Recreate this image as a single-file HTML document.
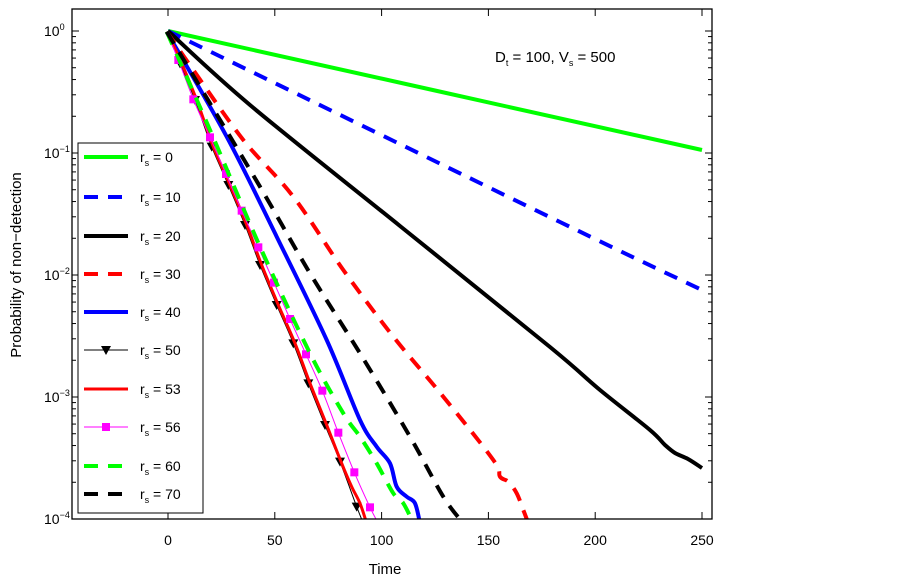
<!DOCTYPE html>
<html><head><meta charset="utf-8"><style>
body{margin:0;background:#fff;}
svg{display:block;font-family:"Liberation Sans",sans-serif;}
</style></head><body>
<svg id="s" width="902" height="580" xmlns="http://www.w3.org/2000/svg">
<rect x="0" y="0" width="902" height="580" fill="#fff"/>
<defs><clipPath id="c"><rect x="72" y="9" width="640" height="510"/></clipPath></defs>
<g id="curves" clip-path="url(#c)"></g>
<rect x="72" y="9" width="640" height="510" fill="none" stroke="#000" stroke-width="1.3"/>
<g id="ticks" stroke="#000" stroke-width="1"></g>
<g id="labels" font-size="14" fill="#000"></g>
<text x="385" y="574" font-size="15" text-anchor="middle">Time</text>
<text transform="translate(21,265) rotate(-90)" font-size="15" text-anchor="middle">Probability of non−detection</text>
<text x="495" y="62" font-size="15">D<tspan font-size="9" dy="4">t</tspan><tspan dy="-4"> = 100, V</tspan><tspan font-size="9" dy="4">s</tspan><tspan dy="-4"> = 500</tspan></text>
<g id="legend"></g>
</svg>
<script>
const NS="http://www.w3.org/2000/svg";
function X(t){return 168+t*2.136;}
function Y(l){return 31-l*122;}
function el(p,tag,a,txt){const e=document.createElementNS(NS,tag);for(const k in a)e.setAttribute(k,a[k]);if(txt!==undefined)e.textContent=txt;p.appendChild(e);return e;}
const tk=document.getElementById('ticks'),lb=document.getElementById('labels');
for(let t=0;t<=250;t+=50){const x=X(t);el(tk,'line',{x1:x,y1:519,x2:x,y2:512});el(tk,'line',{x1:x,y1:9,x2:x,y2:16});
el(lb,'text',{x:x,y:545,'text-anchor':'middle'},String(t));}
for(let d=0;d>=-4;d--){const y=Y(d);el(tk,'line',{x1:72,y1:y,x2:79,y2:y});el(tk,'line',{x1:712,y1:y,x2:705,y2:y});
const tx=el(lb,'text',{x:44,y:y+5});tx.innerHTML='10<tspan font-size="9" dy="-6">'+(d==0?'0':'−'+(-d))+'</tspan>';
if(d>-4)for(let k=2;k<=9;k++){const yy=Y(d-1+Math.log10(k));el(tk,'line',{x1:72,y1:yy,x2:76,y2:yy});el(tk,'line',{x1:712,y1:yy,x2:708,y2:yy});}}
const cv=document.getElementById('curves');
function Z(pts){return pts.map(p=>[160+p[0]/3,20+p[1]/3]);}
const P={
g0:[[168,31],[702,150]],
b10:[[168,31],[560,222],[702,290]],
k20:[[168,31],[250,105],[400,226],[550,347],[600,390],[650,430],[665,445],[675,453],[688,459],[702,468]],
r30:Z([[20,35],[100,150],[250,360],[400,530],[550,750],[700,950],[850,1130],[1000,1320],[1020,1370],[1045,1385],[1070,1420],[1090,1470],[1105,1510]]),
b40:Z([[20,35],[200,350],[350,650],[500,960],[600,1200],[650,1280],[690,1330],[710,1400],[740,1430],[765,1450],[780,1510]]),
k50:Z([[20,35],[60,130],[105,240],[155,380],[205,495],[255,615],[300,735],[350,855],[400,970],[445,1090],[495,1215],[540,1325],[590,1460],[610,1510]]),
r53:Z([[20,35],[65,130],[110,240],[160,380],[210,495],[260,615],[305,735],[355,855],[405,970],[450,1090],[500,1215],[545,1330],[575,1400],[600,1450],[620,1510]]),
m56:Z([[20,35],[55,120],[100,238],[150,352],[198,462],[245,572],[295,682],[342,788],[390,897],[438,1003],[487,1112],[535,1238],[583,1357],[630,1462],[655,1510]]),
g60:Z([[20,35],[150,330],[300,680],[450,1000],[550,1180],[600,1250],[650,1330],[700,1420],[730,1450],[760,1510]]),
k70:Z([[20,35],[150,250],[300,500],[450,760],[600,1000],[750,1250],[850,1430],[910,1510]])};
const S=[
['g0','#00ff00',4,'',null],
['b10','#0000ff',4,'14 10',null],
['k20','#000',4,'',null],
['r30','#ff0000',4,'14 10',null],
['b40','#0000ff',4,'',null],
['k50','#000',1,'',"tri"],
['r53','#ff0000',3,'',null],
['m56','#ff00ff',1,'',"sq"],
['g60','#00ff00',4,'14 10',null],
['k70','#000',4,'14 10',null]];
function smooth(p){let d='M'+p[0][0].toFixed(1)+' '+p[0][1].toFixed(1);
for(let i=0;i<p.length-1;i++){const p0=p[i-1]||p[i],p1=p[i],p2=p[i+1],p3=p[i+2]||p2;
const c1=[p1[0]+(p2[0]-p0[0])/6,p1[1]+(p2[1]-p0[1])/6],c2=[p2[0]-(p3[0]-p1[0])/6,p2[1]-(p3[1]-p1[1])/6];
d+='C'+c1.map(v=>v.toFixed(1)).join(' ')+' '+c2.map(v=>v.toFixed(1)).join(' ')+' '+p2[0].toFixed(1)+' '+p2[1].toFixed(1);}
return d;}
S.forEach(s=>{const pts=P[s[0]];const d=smooth(pts);
el(cv,'path',{d:d,fill:'none',stroke:s[1],'stroke-width':s[2],'stroke-dasharray':s[3],'stroke-linejoin':'round'});
if(s[4]){pts.slice(1,-1).forEach(p=>{const x=p[0],y=p[1];
if(s[4]=='sq')el(cv,'rect',{x:x-4,y:y-4,width:8,height:8,fill:'#ff00ff'});
else el(cv,'path',{d:`M${x-5} ${y-4}L${x+5} ${y-4}L${x} ${y+5}Z`,fill:'#000'});});}
});
const lg=document.getElementById('legend');
el(lg,'rect',{x:78,y:143,width:125,height:370,fill:'#fff',stroke:'#000','stroke-width':1});
const names=['0','10','20','30','40','50','53','56','60','70'];
const ys=[157,197,236,274,312,350,389,427,466,494];
S.forEach((s,i)=>{const y=ys[i];el(lg,'line',{x1:84,y1:y,x2:128,y2:y,stroke:s[1],'stroke-width':s[2],'stroke-dasharray':s[3]});
if(s[4]=='sq')el(lg,'rect',{x:102,y:y-4,width:8,height:8,fill:'#ff00ff'});
if(s[4]=='tri')el(lg,'path',{d:`M${101} ${y-4}L${111} ${y-4}L${106} ${y+5}Z`,fill:'#000'});
const t=el(lg,'text',{x:140,y:y+5,'font-size':'14'});t.innerHTML='r<tspan font-size="9" dy="4">s</tspan><tspan dy="-4"> = '+names[i]+'</tspan>';});
</script>
</body></html>
